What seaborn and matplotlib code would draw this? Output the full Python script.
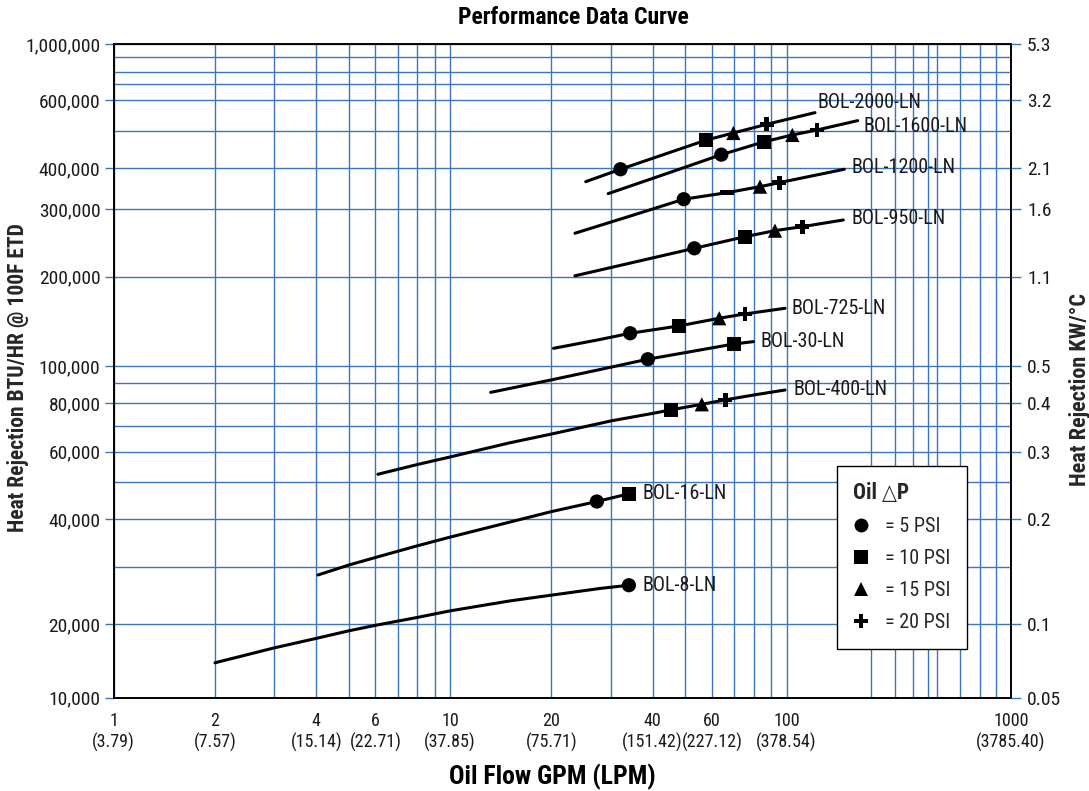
import numpy as np
import pandas as pd
import matplotlib
matplotlib.use("Agg")
import matplotlib.pyplot as plt
import seaborn as sns
from matplotlib import font_manager
from matplotlib.lines import Line2D


# ===============================
# DATA
# ===============================
# oil flow (GPM) and heat rejection (BTU/HR @ 100F ETD) along every curve
bol2000_gpm = [25.3, 32.1, 42.1, 57.5, 69.5, 87.3, 126.4]
bol2000_btu = [364100, 397200, 430800, 472400, 493200, 519300, 556500]
bol1600_gpm = [29.5, 42.1, 64.0, 85.5, 104.9, 128.5, 179.7]
bol1600_btu = [334800, 379300, 433600, 467700, 487500, 502000, 530700]
bol1200_gpm = [23.5, 34.3, 49.5, 66.7, 83.4, 95.2, 160.9]
bol1200_btu = [259700, 288000, 322000, 337200, 351600, 361600, 397200]
bol950_gpm = [23.5, 34.3, 53.2, 75.3, 92.4, 113.9, 159.6]
bol950_btu = [201000, 217000, 237200, 254400, 263800, 270200, 281300]
bol725_gpm = [20.3, 27.9, 34.3, 47.9, 63.1, 75.3, 99.0]
bol725_btu = [114900, 123000, 129100, 136600, 145000, 149900, 156600]
bol30_gpm = [13.2, 20.0, 27.9, 38.7, 69.8, 79.7]
bol30_btu = [85300, 91900, 98000, 105600, 118800, 121000]
bol400_gpm = [6.1, 8.0, 10.0, 15.0, 20.0, 30.3, 40.0, 45.3, 56.0, 65.7, 80.0, 99.0]
bol400_btu = [52300, 55500, 58100, 63200, 66600, 72100, 75300, 76900, 79500, 81600, 84000, 86500]
bol16_gpm = [4.05, 5.0, 6.0, 8.0, 10.0, 20.0, 27.3, 34.0]
bol16_btu = [28400, 30400, 31800, 34100, 35900, 41800, 44400, 46500]
bol8_gpm = [2.0, 3.0, 4.0, 5.0, 6.0, 8.0, 10.0, 15.0, 20.0, 27.9, 34.0]
bol8_btu = [13900, 16000, 17500, 18800, 19800, 21000, 22000, 23600, 24600, 25800, 26400]

curve_names = ["BOL-2000-LN", "BOL-1600-LN", "BOL-1200-LN", "BOL-950-LN",
               "BOL-725-LN", "BOL-30-LN", "BOL-400-LN", "BOL-16-LN", "BOL-8-LN"]
curve_gpm = [bol2000_gpm, bol1600_gpm, bol1200_gpm, bol950_gpm, bol725_gpm,
             bol30_gpm, bol400_gpm, bol16_gpm, bol8_gpm]
curve_btu = [bol2000_btu, bol1600_btu, bol1200_btu, bol950_btu, bol725_btu,
             bol30_btu, bol400_btu, bol16_btu, bol8_btu]

# pressure-drop points (oil delta P)
psi5_gpm = [32.1, 64.0, 49.5, 53.2, 34.3, 38.7, 27.3, 34.0]
psi5_btu = [397200, 433600, 322000, 237200, 129100, 105600, 44400, 26400]
psi10_gpm = [57.5, 85.5, 66.7, 75.3, 47.9, 69.8, 45.3, 34.0]
psi10_btu = [472400, 467700, 337200, 254400, 136600, 118800, 76900, 46500]
psi15_gpm = [69.5, 104.9, 83.4, 92.4, 63.1, 56.0]
psi15_btu = [493200, 487500, 351600, 263800, 145000, 79500]
psi20_gpm = [87.3, 128.5, 95.2, 113.9, 75.3, 65.7]
psi20_btu = [519300, 502000, 361600, 270200, 149900, 81600]
psi_labels = ["= 5 PSI", "= 10 PSI", "= 15 PSI", "= 20 PSI"]

# axis ticks
gpm_ticks = [1, 2, 4, 6, 10, 20, 40, 60, 100, 1000]
lpm_labels = ["3.79", "7.57", "15.14", "22.71", "37.85", "75.71",
              "151.42", "227.12", "378.54", "3785.40"]
gpm_minor = [3, 5, 7, 8, 9, 30, 50, 70, 80, 90, 200, 300, 400, 500, 600, 700, 800, 900]
btu_ticks = [10000, 20000, 40000, 60000, 80000, 100000,
             200000, 300000, 400000, 600000, 1000000]
btu_labels = ["10,000", "20,000", "40,000", "60,000", "80,000", "100,000",
              "200,000", "300,000", "400,000", "600,000", "1,000,000"]
kw_labels = ["0.05", "0.1", "0.2", "0.3", "0.4", "0.5",
             "1.1", "1.6", "2.1", "3.2", "5.3"]
btu_minor = [30000, 50000, 70000, 90000, 500000, 700000, 800000, 900000]

# the printed chart paper is not a clean log grid: where each grid line sits
# (in decades from the lower-left corner)
x_knot_vals = [1, 100, 200, 300, 400, 500, 600, 700, 800, 900, 1000]
x_knot_pos = [0, 2.0, 2.2503, 2.3225, 2.3751, 2.4215, 2.4483, 2.5149, 2.5743, 2.6237, 2.6674]
y_knot_vals = [1e4, 2e4, 3e4, 4e4, 5e4, 6e4, 7e4, 8e4, 9e4,
               1e5, 2e5, 3e5, 4e5, 5e5, 6e5, 7e5, 8e5, 9e5, 1e6]
y_knot_pos = [0, 0.2215, 0.3935, 0.5392, 0.6518, 0.7423, 0.8208, 0.8884, 0.9487,
              1.0, 1.2704, 1.4737, 1.5975, 1.7109, 1.8036, 1.8518, 1.8890, 1.9324, 1.9725]


def chart_scale(vals, pos):
    lv = np.log10(vals)
    pos = np.asarray(pos, float)
    s0 = (pos[1] - pos[0]) / (lv[1] - lv[0])
    s1 = (pos[-1] - pos[-2]) / (lv[-1] - lv[-2])
    lv_ext = np.r_[lv[0] - 60, lv, lv[-1] + 60]
    pos_ext = np.r_[pos[0] - 60 * s0, pos, pos[-1] + 60 * s1]

    def forward(v):
        v = np.clip(np.asarray(v, float), 1e-300, None)
        return np.interp(np.log10(v), lv_ext, pos_ext)

    def inverse(p):
        return 10 ** np.interp(np.asarray(p, float), pos_ext, lv_ext)

    return forward, inverse


# ===============================
# STYLE
# ===============================
sns.set_style("white")

# a narrow sans if there is one, otherwise Roboto
installed = {f.name for f in font_manager.fontManager.ttflist}
narrow = [f for f in ["Roboto Condensed", "Liberation Sans Narrow", "Open Sans Condensed",
                      "Roboto", "DejaVu Sans"] if f in installed]
plt.rcParams['font.family'] = narrow + ['DejaVu Sans']
plt.rcParams['font.stretch'] = 'condensed'
IS_NARROW = narrow[0] in ("Roboto Condensed", "Liberation Sans Narrow", "Open Sans Condensed")
FS = 14.5 if IS_NARROW else 13

GRID = '#3b76bd'
TXT = '#1a1a1a'

lines_df = pd.concat([
    pd.DataFrame({"model": n, "gpm": g, "btu": b})
    for n, g, b in zip(curve_names, curve_gpm, curve_btu)
], ignore_index=True)

pts_df = pd.concat([
    pd.DataFrame({"gpm": psi5_gpm, "btu": psi5_btu, "psi": "5"}),
    pd.DataFrame({"gpm": psi10_gpm, "btu": psi10_btu, "psi": "10"}),
    pd.DataFrame({"gpm": psi15_gpm, "btu": psi15_btu, "psi": "15"}),
    pd.DataFrame({"gpm": psi20_gpm, "btu": psi20_btu, "psi": "20"}),
], ignore_index=True)
# the 10 PSI point of BOL-1200 is printed as a flat bar
pts_df.loc[(pts_df.psi == "10") & (pts_df.gpm == 66.7), "psi"] = "10bar"

dash = [(-1, -0.38), (1, -0.38), (1, 0.38), (-1, 0.38), (-1, -0.38)]
marker_map = {"5": "o", "10": "s", "15": "^", "20": "P", "10bar": dash}

# ===============================
# FIGURE
# ===============================
fig = plt.figure(figsize=(10.89, 7.91), dpi=100)
ax = fig.add_axes([0.1044, 0.118, 0.824, 0.8264])

ax.set_xscale('function', functions=chart_scale(x_knot_vals, x_knot_pos))
ax.set_yscale('function', functions=chart_scale(y_knot_vals, y_knot_pos))
ax.set_xlim(1, 1000)
ax.set_ylim(10000, 1000000)

sns.lineplot(data=lines_df, x="gpm", y="btu", units="model", estimator=None,
             sort=False, color='black', linewidth=2.2, ax=ax, legend=False, zorder=3)
sns.scatterplot(data=pts_df, x="gpm", y="btu", style="psi", markers=marker_map,
                color='black', s=105, linewidth=0, ax=ax, legend=False, zorder=4)

# curve names at the right end of each curve
label_offsets = [(2, 7), (4, -4), (5, 1), (6, 1), (5, 0), (5, 0), (6, 0), (10, 0), (10, 0)]
for name, g, b, off in zip(curve_names, curve_gpm, curve_btu, label_offsets):
    ax.annotate(name, xy=(g[-1], b[-1]), xytext=off, textcoords='offset points',
                ha='left', va='center', color=TXT, fontsize=FS)

# grid / ticks
ax.set_xticks(gpm_ticks)
ax.set_xticklabels([f"{t}\n({l})" for t, l in zip(gpm_ticks, lpm_labels)])
ax.set_xticks(gpm_minor, minor=True)
ax.set_yticks(btu_ticks)
ax.set_yticklabels(btu_labels)
ax.set_yticks(btu_minor, minor=True)
ax.set_xlabel("")
ax.set_ylabel("")
ax.grid(True, which='both', color=GRID, linewidth=1.0)
ax.set_axisbelow(True)
ax.tick_params(which='major', direction='out', color=GRID, width=1.0,
               length=6.5, labelcolor=TXT)
ax.tick_params(axis='x', which='major', pad=4, labelsize=FS - 1.5)
ax.tick_params(axis='y', which='major', pad=3, labelsize=FS - 0.5)
ax.tick_params(which='minor', length=0)
for s in ax.spines.values():
    s.set_color('black')
    s.set_linewidth(1.4)

ax2 = ax.twinx()
ax2.set_yscale('function', functions=chart_scale(y_knot_vals, y_knot_pos))
ax2.set_ylim(10000, 1000000)
ax2.set_yticks(btu_ticks)
ax2.set_yticklabels(kw_labels)
ax2.set_yticks([], minor=True)
ax2.grid(False)
ax2.tick_params(axis='y', direction='out', color=GRID, width=1.0, length=7.5,
                labelcolor=TXT, labelsize=FS - 0.5, pad=4)
for s in ax2.spines.values():
    s.set_visible(False)

# legend
handles = [Line2D([], [], ls='none', marker=m, color='black', markersize=10,
                  markeredgewidth=0) for m in ["o", "s", "^", "P"]]
leg = ax.legend(handles, psi_labels, title="Oil \u25B3P", loc='upper left',
                bbox_to_anchor=(0.806, 0.3544), borderaxespad=0, frameon=True,
                fancybox=False, edgecolor='black', framealpha=1, fontsize=FS,
                title_fontsize=FS + 1, handlelength=0.8, handletextpad=0.8,
                labelspacing=0.65, borderpad=0.8, alignment='left')
leg.get_title().set_fontweight('bold')
leg.get_frame().set_linewidth(1.0)
leg.set_zorder(10)

# titles
fig.text(573 / 1089, 1 - 18 / 791, "Performance Data Curve", ha='center',
         va='center', fontweight='bold', fontsize=FS + 2.5, color='black')
fig.text(552 / 1089, 1 - 777 / 791, "Oil Flow GPM (LPM)", ha='center',
         va='center', fontweight='bold', fontsize=FS + 4, color='black')
fig.text(18.5 / 1089, 1 - 377.5 / 791, "Heat Rejection BTU/HR @ 100F ETD",
         ha='center', va='center', rotation=90, fontweight='bold', fontsize=FS + 1)
fig.text(1080 / 1089, 1 - 390 / 791, "Heat Rejection KW/\u00B0C",
         ha='center', va='center', rotation=90, fontweight='bold', fontsize=FS + 1.5)

fig.savefig("out.png", dpi=100)
plt.close(fig)
